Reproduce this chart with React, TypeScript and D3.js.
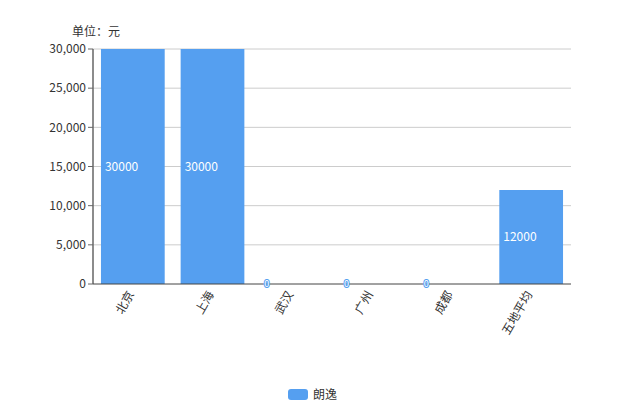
import React from "react";
import * as d3 from "d3";

const categories = ["北京", "上海", "武汉", "广州", "成都", "五地平均"];
const values = [30000, 30000, 0, 0, 0, 12000];
const yTicks = [0, 5000, 10000, 15000, 20000, 25000, 30000];
const seriesName = "朗逸";
const unitLabel = "单位：元";

const W = 620, H = 413;
const M = { left: 93, right: 49, top: 49, bottom: 129 };
const BAR = "#559FF0";
const FONT = "'Noto Sans CJK SC', 'Noto Sans', sans-serif";

export default function App() {
  const x = d3.scaleBand<string>().domain(categories).range([M.left, W - M.right]).paddingInner(0.2).paddingOuter(0.1);
  const band = d3.scaleBand<string>().domain(categories).range([M.left, W - M.right]);
  const y = d3.scaleLinear().domain([0, 30000]).range([H - M.bottom, M.top]);
  const fmt = d3.format(",");
  const y0 = y(0);
  return (
    <svg width={W} height={H} style={{ position: "absolute", left: 0, top: 0, fontFamily: FONT }}>
      <rect width={W} height={H} fill="#fff" />
      <text x={72} y={36} fontSize={12} fill="#333">{unitLabel}</text>
      {yTicks.map((t) => (
        <g key={t}>
          {t > 0 && <line x1={M.left} x2={W - M.right} y1={y(t)} y2={y(t)} stroke="#ccc" strokeWidth={1} />}
          <line x1={M.left - 5} x2={M.left} y1={y(t)} y2={y(t)} stroke="#666" />
          <text x={M.left - 7} y={y(t)} dy="0.35em" textAnchor="end" fontSize={12} fill="#333">{fmt(t)}</text>
        </g>
      ))}
      {categories.map((c, i) => {
        const bx = x(c)!;
        const bw = x.bandwidth();
        const by = y(values[i]);
        return (
          <g key={c}>
            <rect x={bx} y={by} width={bw} height={y0 - by} fill={BAR} />
          </g>
        );
      })}
      <line x1={M.left} x2={M.left} y1={M.top} y2={y0} stroke="#666" strokeWidth={1.5} />
      <line x1={M.left} x2={W - M.right} y1={y0} y2={y0} stroke="#444" strokeWidth={1} />
      {categories.map((c, i) => {
        const bx = x(c)!;
        const by = y(values[i]);
        const cy = (by + y0) / 2;
        return (
          <text key={c + "l"} x={bx + 4} y={cy} dy="0.35em" fontSize={values[i] === 0 ? 9 : 12}
            fill="#fff" stroke={values[i] === 0 ? BAR : "none"} strokeWidth={values[i] === 0 ? 2 : 0}
            paintOrder="stroke">{values[i]}</text>
        );
      })}
      {categories.map((c) => {
        const cx = band(c)! + band.bandwidth() / 2;
        return (
          <g key={c + "t"} transform={`translate(${cx - 2},${y0 + 8}) rotate(-60)`}>
            <text textAnchor="end" dy="0.35em" fontSize={12} fill="#333">{c}</text>
          </g>
        );
      })}
      <rect x={288} y={389} width={20} height={11} rx={3} fill={BAR} />
      <text x={313} y={395} dy="0.35em" fontSize={12} fill="#333">{seriesName}</text>
    </svg>
  );
}
